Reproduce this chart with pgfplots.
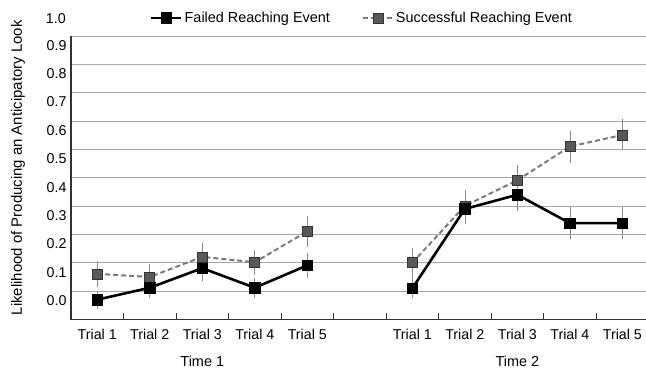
\documentclass[border=0pt]{standalone}
\usepackage{pgfplots}
\pgfplotsset{compat=1.18}
\usepackage{pgfplotstable}
\usepackage{fontspec}
\setmainfont{Liberation Sans}
\definecolor{gridc}{HTML}{A8A8A8}
\definecolor{axc}{HTML}{333333}
\definecolor{succfill}{HTML}{585858}
\definecolor{succline}{HTML}{7A7A7A}
\definecolor{errc}{HTML}{8A8A8A}

\pgfplotstableread{
x y e
0 0.070 0.026
1 0.112 0.029
2 0.181 0.040
3 0.112 0.030
4 0.191 0.039
}\failA
\pgfplotstableread{
x y e
6 0.110 0.030
7 0.390 0.047
8 0.440 0.050
9 0.340 0.050
10 0.340 0.050
}\failB
\pgfplotstableread{
x y e
0 0.161 0.040
1 0.150 0.041
2 0.221 0.042
3 0.202 0.039
4 0.311 0.049
}\succA
\pgfplotstableread{
x y e
6 0.200 0.048
7 0.401 0.050
8 0.491 0.050
9 0.610 0.051
10 0.651 0.049
}\succB

\begin{document}
\begin{tikzpicture}
\begin{axis}[
  name=ax, at={(0,0)}, anchor=south west,
  scale only axis, width=575bp, height=283.5bp,
  xmin=-0.5, xmax=10.45, ymin=0, ymax=1,
  clip=false,
  axis x line*=bottom, axis y line*=left,
  axis line style={-, draw=axc, line width=1.3bp},
  xtick={0,1,2,3,4,6,7,8,9,10},
  xticklabels={Trial 1,Trial 2,Trial 3,Trial 4,Trial 5,Trial 1,Trial 2,Trial 3,Trial 4,Trial 5},
  minor xtick={0.5,1.5,2.5,3.5,4.5,5.5,6.5,7.5,8.5,9.5},
  major tick length=0pt,
  minor tick length=6bp,
  tick align=inside,
  minor x tick style={draw=axc, line width=1bp},
  xticklabel style={font=\fontsize{14.3}{16}\selectfont, yshift=-6bp},
  ytick={0,0.1,0.2,0.3,0.4,0.5,0.6,0.7,0.8,0.9,1.0},
  yticklabels={0.0,0.1,0.2,0.3,0.4,0.5,0.6,0.7,0.8,0.9,{}},
  yticklabel style={font=\fontsize{14.3}{16}\selectfont, anchor=east, xshift=-1bp, yshift=19bp},
  ymajorgrids=true,
  major grid style={draw=gridc, line width=0.9bp},
  legend columns=2,
  reverse legend,
  legend style={at={(rel axis cs:0.506,1)}, anchor=center, yshift=18bp, draw=none, fill=none,
    font=\fontsize{14.5}{16}\selectfont,
    /tikz/every even column/.append style={column sep=30bp}},
  legend image code/.code={\draw[mark repeat=2,mark phase=2] plot coordinates {(0bp,0bp) (15bp,0bp) (30bp,0bp)};},
]
% Successful (drawn first, underneath)
\addplot[succline, line width=2bp, dash pattern=on 5bp off 3bp,
  mark=square*, mark size=5bp, mark options={solid, fill=succfill, draw=axc, line width=0.6bp},
  error bars/.cd, y dir=both, y explicit,
  error bar style={draw=errc, line width=0.6bp, solid},
  error mark options={draw=errc, mark size=1.6bp, line width=0.6bp, solid}]
  table[x=x, y=y, y error=e] {\succA};
\addlegendentry{Successful Reaching Event}
\addplot[forget plot, succline, line width=2bp, dash pattern=on 5bp off 3bp,
  mark=square*, mark size=5bp, mark options={solid, fill=succfill, draw=axc, line width=0.6bp},
  error bars/.cd, y dir=both, y explicit,
  error bar style={draw=errc, line width=0.6bp, solid},
  error mark options={draw=errc, mark size=1.6bp, line width=0.6bp, solid}]
  table[x=x, y=y, y error=e] {\succB};
% Failed
\addplot[black, line width=2.6bp,
  mark=square*, mark size=5.3bp, mark options={fill=black, line width=0.5bp},
  error bars/.cd, y dir=both, y explicit,
  error bar style={draw=errc, line width=0.6bp},
  error mark options={draw=errc, mark size=1.6bp, line width=0.6bp}]
  table[x=x, y=y, y error=e] {\failA};
\addlegendentry{Failed Reaching Event}
\addplot[forget plot, black, line width=2.6bp,
  mark=square*, mark size=5.3bp, mark options={fill=black, line width=0.5bp},
  error bars/.cd, y dir=both, y explicit,
  error bar style={draw=errc, line width=0.6bp},
  error mark options={draw=errc, mark size=1.6bp, line width=0.6bp}]
  table[x=x, y=y, y error=e] {\failB};
\node[font=\fontsize{14.3}{16}\selectfont, anchor=base east, inner sep=0pt] at (axis cs:-0.5,1) [xshift=-5bp, yshift=12bp] {1.0};
\node[font=\fontsize{14.5}{16}\selectfont] at (axis cs:2,0) [yshift=-42bp] {Time 1};
\node[font=\fontsize{14.5}{16}\selectfont] at (axis cs:8,0) [yshift=-42bp] {Time 2};
\node[font=\fontsize{15}{17}\selectfont, rotate=90] at ([xshift=-53bp]rel axis cs:0,0.535) {Likelihood of Producing an Anticipatory Look};
\coordinate (BL) at (rel axis cs:0,0);
\coordinate (TR) at (rel axis cs:1,1);
\end{axis}
\pgfresetboundingbox
\path[use as bounding box] ([shift={(-71bp,-49.5bp)}]BL) rectangle ([shift={(0bp,36bp)}]TR);
\end{tikzpicture}
\end{document}
